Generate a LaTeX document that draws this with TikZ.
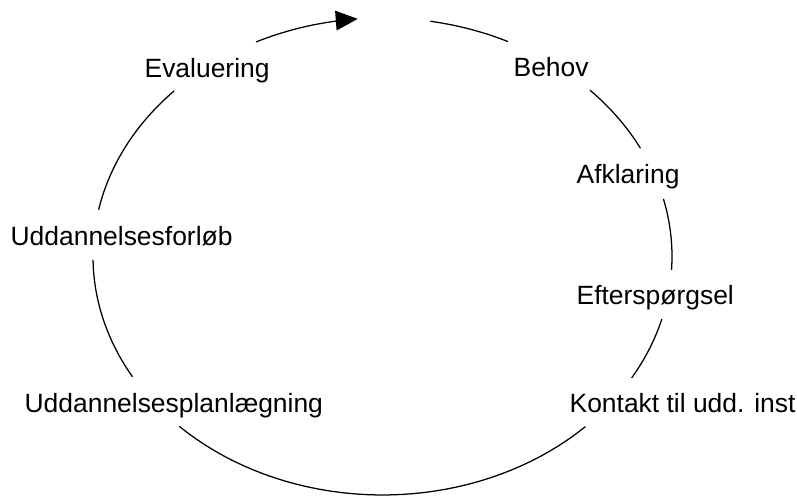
\documentclass[tikz,border=0pt]{standalone}
\usepackage{fontspec}
\setmainfont{Liberation Sans}
\usetikzlibrary{arrows.meta}

\begin{document}
\begin{tikzpicture}[x=0.025cm, y=-0.025cm, line width=0.9pt,
  stage/.style={anchor=base west, inner sep=0pt, font=\fontsize{18.8}{22}\selectfont}]
\useasboundingbox (0,0) rectangle (797,497);
% stages round the cycle
\node[stage] (evaluering) at (144,78) {Evaluering};
\node[stage] (behov) at (513,77) {Behov};
\node[stage] (afklaring) at (576,184) {Afklaring};
\node[stage] (efterspoergsel) at (576,305) {Efterspørgsel};
\node[stage] (kontakt) at (569,413) {Kontakt til udd. inst};
\node[stage] (planlaegning) at (24,413) {Uddannelsesplanlægning};
\node[stage] (forloeb) at (10,246) {Uddannelsesforløb};
% the cycle, piece by piece
\draw[-{Triangle[length=5.5mm,width=4.9mm]}] plot[domain=244.1:265.1, samples=30]
  ({382.5+289.5*cos(\x)},{256.5+238.5*sin(\x)});
\foreach \a/\b in {279.5/295.7, 315.8/333, 346/363.25, 15.2/30.6, 45.5/134.6, 149.7/179.2, 191.3/224}
  \draw plot[domain=\a:\b, samples=40] ({382.5+289.5*cos(\x)},{256.5+238.5*sin(\x)});
\end{tikzpicture}
\end{document}
